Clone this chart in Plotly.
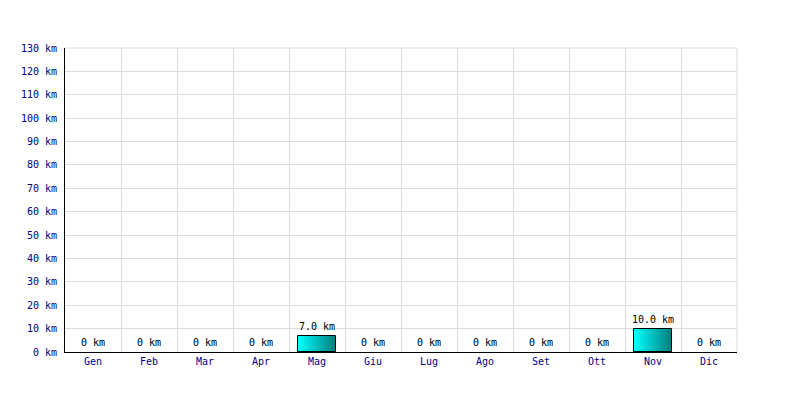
import plotly.graph_objects as go

months = ["Gen", "Feb", "Mar", "Apr", "Mag", "Giu", "Lug", "Ago", "Set", "Ott", "Nov", "Dic"]
km = [0, 0, 0, 0, 7.0, 0, 0, 0, 0, 0, 10.0, 0]
y_ticks = list(range(0, 131, 10))
y_labels = [f"{v} km" for v in y_ticks]
labels = [f"{v:.1f} km" if v else "0 km" for v in km]

FONT = "DejaVu Sans Mono"
NAVY = "#000080"
BAR_W = 0.68
N = 24
c0 = (0, 255, 255)
c1 = (0, 128, 128)

fig = go.Figure()
sw = BAR_W / N
for i in range(N):
    t = i / (N - 1)
    col = "rgb(%d,%d,%d)" % tuple(round(a + (b - a) * t) for a, b in zip(c0, c1))
    fig.add_trace(go.Bar(
        x=months, y=km, width=[sw * 1.05] * len(months),
        offset=-BAR_W / 2 + i * sw,
        marker=dict(color=col, line=dict(width=0)),
        hoverinfo="skip", showlegend=False))
# outline
fig.add_trace(go.Bar(
    x=months, y=km, width=[BAR_W] * len(months), offset=-BAR_W / 2,
    marker=dict(color="rgba(0,0,0,0)",
                line=dict(color="black", width=[1 if v else 0 for v in km])),
    showlegend=False, hoverinfo="skip"))

for m, v, lab in zip(months, km, labels):
    fig.add_annotation(x=m, y=v, text=lab, showarrow=False, yanchor="bottom",
                       yshift=2, font=dict(family=FONT, size=10, color="black"))

fig.update_layout(
    width=800, height=400, barmode="overlay", bargap=0,
    margin=dict(l=57, r=71, t=40, b=56),
    paper_bgcolor="white", plot_bgcolor="white",
    font=dict(family=FONT, size=10, color=NAVY),
    xaxis=dict(type="category", tickson="boundaries", showgrid=True,
               gridcolor="#dcdcdc", gridwidth=1, ticks="", showline=True,
               linecolor="black", linewidth=1, tickfont=dict(color=NAVY, size=10, family=FONT),
               range=[-0.5, 11.5], mirror=False, zeroline=False),
    yaxis=dict(range=[0, 130], tickvals=y_ticks, ticktext=y_labels,
               showgrid=True, gridcolor="#dcdcdc", gridwidth=1,
               showline=True, linecolor="black", linewidth=1, zeroline=False,
               ticks="outside", ticklen=5, tickcolor="white",
               tickfont=dict(color=NAVY, size=10, family=FONT)),
    shapes=[dict(type="line", xref="paper", yref="paper", x0=1, x1=1, y0=0, y1=1,
                 line=dict(color="#dcdcdc", width=1)),
            dict(type="line", xref="paper", yref="paper", x0=0, x1=1, y0=1, y1=1,
                 line=dict(color="#dcdcdc", width=1))],
)

fig.write_html("out.html")
